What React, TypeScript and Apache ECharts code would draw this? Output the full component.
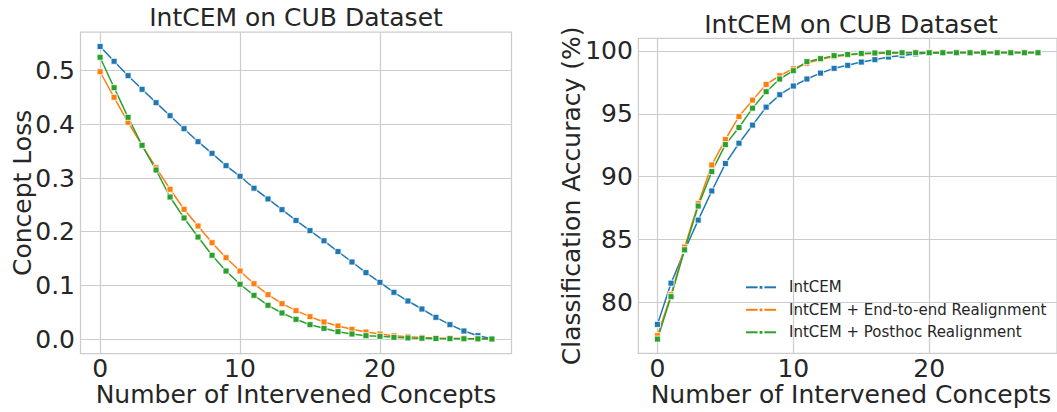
import React, { useEffect, useRef } from 'react';
import * as echarts from 'echarts';

const xValues = [0, 1, 2, 3, 4, 5, 6, 7, 8, 9, 10, 11, 12, 13, 14, 15, 16, 17, 18, 19, 20, 21, 22, 23, 24, 25, 26, 27, 28];
const xTicks = [0, 10, 20];
const lossTicks = [0, 0.1, 0.2, 0.3, 0.4, 0.5];
const accTicks = [80, 85, 90, 95, 100];

const seriesNames = ['IntCEM', 'IntCEM + End-to-end Realignment', 'IntCEM + Posthoc Realignment'];
const seriesColors = ['#1f77b4', '#ff7f0e', '#2ca02c'];

const lossIntCEM = [0.545, 0.5175, 0.4907, 0.4653, 0.4404, 0.4161, 0.3919, 0.3677, 0.346, 0.323, 0.3032, 0.281, 0.261, 0.241, 0.221, 0.202, 0.183, 0.163, 0.1435, 0.1236, 0.1056, 0.087, 0.0708, 0.0559, 0.0404, 0.0267, 0.0149, 0.0062, 0.0006];
const lossEndToEnd = [0.498, 0.4504, 0.4038, 0.361, 0.3192, 0.279, 0.2417, 0.2106, 0.1795, 0.1515, 0.1267, 0.103, 0.0826, 0.0658, 0.0528, 0.0416, 0.0317, 0.0242, 0.018, 0.013, 0.0093, 0.0062, 0.0043, 0.003, 0.002, 0.0015, 0.001, 0.0005, 0.0];
const lossPosthoc = [0.525, 0.4683, 0.4131, 0.361, 0.3149, 0.2646, 0.2255, 0.19, 0.156, 0.1267, 0.102, 0.0814, 0.0628, 0.0485, 0.0367, 0.0267, 0.0199, 0.0137, 0.0093, 0.0062, 0.005, 0.0031, 0.002, 0.0015, 0.001, 0.0007, 0.0005, 0.0003, 0.0];

const accIntCEM = [78.24, 81.52, 84.12, 86.54, 88.86, 91.04, 92.66, 94.1, 95.53, 96.52, 97.21, 97.77, 98.24, 98.62, 98.86, 99.12, 99.31, 99.52, 99.65, 99.76, 99.84, 99.86, 99.87, 99.87, 99.87, 99.87, 99.87, 99.87, 99.87];
const accEndToEnd = [77.34, 80.6, 84.39, 87.85, 90.93, 92.95, 94.79, 96.09, 97.34, 98.03, 98.59, 99.02, 99.34, 99.55, 99.68, 99.76, 99.8, 99.83, 99.85, 99.87, 99.88, 99.88, 99.88, 99.88, 99.88, 99.88, 99.88, 99.88, 99.88];
const accPosthoc = [77.07, 80.45, 84.18, 87.66, 90.4, 92.55, 93.91, 95.45, 96.76, 97.77, 98.43, 99.15, 99.39, 99.63, 99.73, 99.81, 99.84, 99.86, 99.86, 99.86, 99.86, 99.86, 99.86, 99.86, 99.86, 99.86, 99.86, 99.86, 99.86];

const FONT = '"DejaVu Sans", Verdana, sans-serif';
const TEXT = '#262626';
const GRIDC = '#cccccc';

function xAxis(gridIndex: number) {
  return {
    type: 'value',
    gridIndex,
    min: -1.4,
    max: 29.4,
    axisLine: { show: false },
    axisTick: { show: false, customValues: xTicks },
    axisLabel: { customValues: xTicks, fontSize: 25, lineHeight: 20, fontFamily: FONT, color: TEXT, margin: 5 },
    splitLine: { show: true, lineStyle: { color: GRIDC, width: 1.2 } },
  };
}

function yAxis(gridIndex: number, min: number, max: number, ticks: number[], fmt: (v: number) => string) {
  return {
    type: 'value',
    gridIndex,
    min,
    max,
    axisLine: { show: false },
    axisTick: { show: false, customValues: ticks },
    axisLabel: { customValues: ticks, fontSize: 25, lineHeight: 22, fontFamily: FONT, color: TEXT, margin: 5.5, formatter: fmt },
    splitLine: { show: true, lineStyle: { color: GRIDC, width: 1.2 } },
  };
}

function lineSeries(name: string, color: string, values: number[], idx: number) {
  return {
    type: 'line',
    name,
    xAxisIndex: idx,
    yAxisIndex: idx,
    data: xValues.map((x, i) => [x, values[i]]),
    symbol: 'rect',
    symbolSize: 6,
    showSymbol: true,
    lineStyle: { color, width: 1.5 },
    itemStyle: { color, borderColor: '#ffffff', borderWidth: 0.8 },
    emphasis: { disabled: true },
  };
}

function txt(text: string, x: number, y: number, size: number, rotation = 0) {
  return {
    type: 'text',
    x,
    y,
    rotation,
    style: {
      text,
      fontSize: size,
      lineHeight: 22,
      fontFamily: FONT,
      fill: TEXT,
      align: 'center',
      verticalAlign: 'middle',
      textAlign: 'center',
      textVerticalAlign: 'middle',
    },
  };
}

export default function App() {
  const ref = useRef<HTMLDivElement>(null);
  useEffect(() => {
    document.body.style.margin = '0';
    const chart = echarts.init(ref.current as HTMLDivElement, null, { renderer: 'svg' });
    chart.setOption({
      animation: false,
      backgroundColor: '#ffffff',
      grid: [
        { left: 80.5, top: 32.2, width: 431, height: 321.3, show: true, borderColor: GRIDC, borderWidth: 1.25 },
        { left: 638.4, top: 38.3, width: 425, height: 315, show: true, borderColor: GRIDC, borderWidth: 1.25 },
      ],
      xAxis: [xAxis(0), xAxis(1)],
      yAxis: [
        yAxis(0, -0.027, 0.5717, lossTicks, (v: number) => v.toFixed(1)),
        yAxis(1, 75.94, 101.01, accTicks, (v: number) => String(Math.round(v))),
      ],
      legend: {
        show: true,
        orient: 'vertical',
        left: 745,
        top: 279.8,
        padding: 0,
        itemWidth: 30,
        itemHeight: 6,
        itemGap: 7.5,
        data: seriesNames,
        textStyle: { fontSize: 15, fontFamily: FONT, color: TEXT, lineHeight: 15, padding: [0, 0, 0, 8] },
        selectedMode: false,
      },
      graphic: [
        txt('IntCEM on CUB Dataset', 296, 17.9, 25),
        txt('IntCEM on CUB Dataset', 851, 24.6, 25),
        txt('Number of Intervened Concepts', 296, 394.8, 25),
        txt('Number of Intervened Concepts', 851, 394.8, 25),
        txt('Concept Loss', 22, 192.9, 25, Math.PI / 2),
        txt('Classification Accuracy (%)', 571.5, 195.8, 25, Math.PI / 2),
      ],
      series: [
        lineSeries(seriesNames[0], seriesColors[0], lossIntCEM, 0),
        lineSeries(seriesNames[1], seriesColors[1], lossEndToEnd, 0),
        lineSeries(seriesNames[2], seriesColors[2], lossPosthoc, 0),
        lineSeries(seriesNames[0], seriesColors[0], accIntCEM, 1),
        lineSeries(seriesNames[1], seriesColors[1], accEndToEnd, 1),
        lineSeries(seriesNames[2], seriesColors[2], accPosthoc, 1),
      ],
    });
    return () => chart.dispose();
  }, []);
  return <div ref={ref} style={{ width: 1057, height: 412 }} />;
}
